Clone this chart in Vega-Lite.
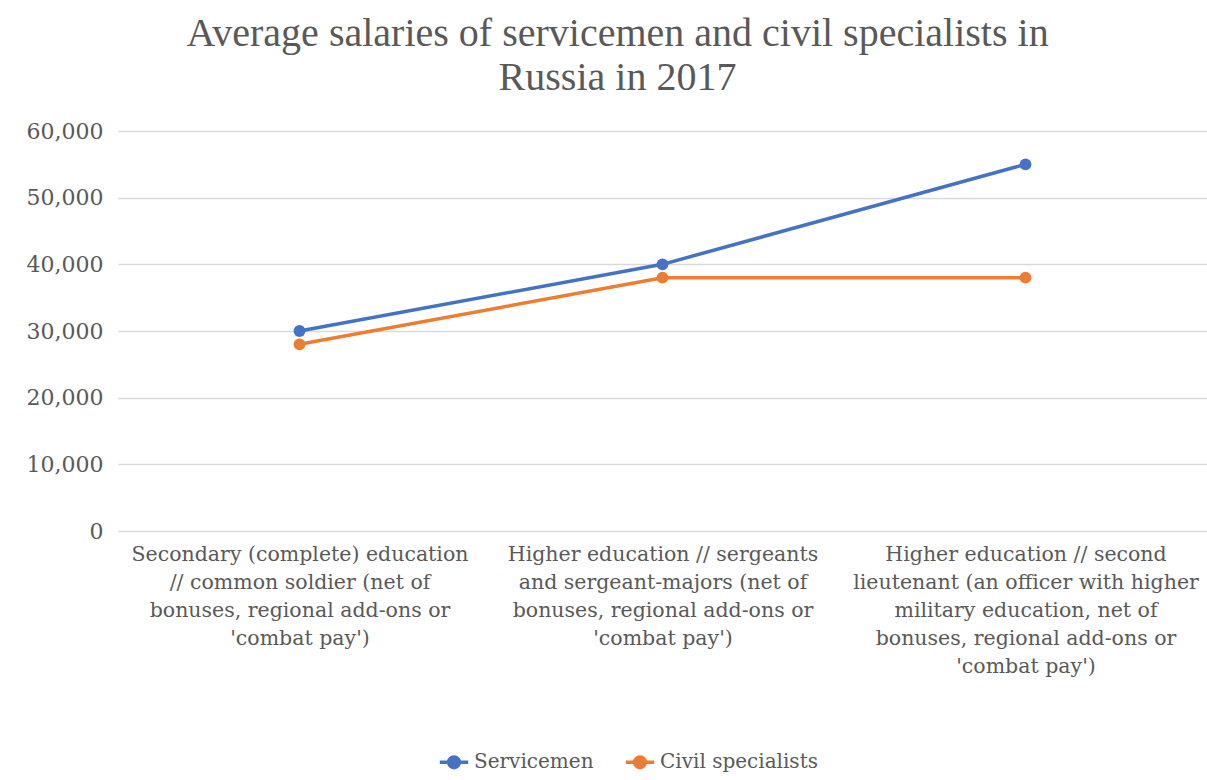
{
  "$schema": "https://vega.github.io/schema/vega-lite/v6.json",
  "width": 1089,
  "height": 400,
  "autosize": {"type": "none"},
  "padding": {"left": 118, "top": 131, "right": 0, "bottom": 249},
  "background": "white",
  "title": {
    "text": ["Average salaries of servicemen and civil specialists in", "Russia in 2017"],
    "font": "Liberation Serif",
    "fontSize": 40,
    "fontWeight": "normal",
    "color": "#595959",
    "lineHeight": 44,
    "anchor": "middle",
    "dx": -45,
    "offset": 22
  },
  "data": {
    "values": [
      {"category": "Secondary (complete) education|// common soldier (net of|bonuses, regional add-ons or|'combat pay')", "order": 1, "series": "Servicemen", "salary": 30000},
      {"category": "Higher education // sergeants|and sergeant-majors (net of|bonuses, regional add-ons or|'combat pay')", "order": 2, "series": "Servicemen", "salary": 40000},
      {"category": "Higher education // second|lieutenant (an officer with higher|military education, net of|bonuses, regional add-ons or|'combat pay')", "order": 3, "series": "Servicemen", "salary": 55000},
      {"category": "Secondary (complete) education|// common soldier (net of|bonuses, regional add-ons or|'combat pay')", "order": 1, "series": "Civil specialists", "salary": 28000},
      {"category": "Higher education // sergeants|and sergeant-majors (net of|bonuses, regional add-ons or|'combat pay')", "order": 2, "series": "Civil specialists", "salary": 38000},
      {"category": "Higher education // second|lieutenant (an officer with higher|military education, net of|bonuses, regional add-ons or|'combat pay')", "order": 3, "series": "Civil specialists", "salary": 38000}
    ]
  },
  "encoding": {
    "x": {
      "field": "category",
      "type": "nominal",
      "sort": {"field": "order"},
      "scale": {"type": "point", "padding": 0.5},
      "axis": {
        "title": null,
        "labelAngle": 0,
        "labelExpr": "split(datum.label, '|')",
        "labelFont": "DejaVu Serif",
        "labelFontSize": 20.5,
        "labelColor": "#595959",
        "labelLineHeight": 28,
        "labelLimit": 400,
        "labelPadding": 13,
        "labelBaseline": "top",
        "domain": false,
        "ticks": false,
        "grid": false
      }
    },
    "y": {
      "field": "salary",
      "type": "quantitative",
      "scale": {"domain": [0, 60000], "nice": false},
      "axis": {
        "title": null,
        "values": [0, 10000, 20000, 30000, 40000, 50000, 60000],
        "format": ",d",
        "labelFont": "DejaVu Serif",
        "labelFontSize": 22,
        "labelColor": "#595959",
        "labelPadding": 15,
        "domain": false,
        "ticks": false,
        "grid": true,
        "gridColor": "#d9d9d9",
        "gridWidth": 1.3
      }
    },
    "color": {
      "field": "series",
      "type": "nominal",
      "sort": ["Servicemen", "Civil specialists"],
      "scale": {"domain": ["Servicemen", "Civil specialists"], "range": ["#4472C4", "#ED7D31"]},
      "legend": {
        "title": null,
        "orient": "none",
        "direction": "horizontal",
        "legendX": 322,
        "legendY": 617,
        "symbolType": "M-1.2,0L1.2,0M0.45,0A0.45,0.45 0 1,1 -0.45,0A0.45,0.45 0 1,1 0.45,0Z",
        "symbolSize": 560,
        "symbolStrokeWidth": 3.5,
        "labelFont": "DejaVu Serif",
        "labelFontSize": 20,
        "labelColor": "#595959",
        "columnPadding": 24,
        "labelOffset": 6
      }
    }
  },
  "layer": [
    {"mark": {"type": "line", "strokeWidth": 3.5}},
    {"mark": {"type": "point", "filled": true, "size": 140, "opacity": 1}}
  ],
  "config": {"view": {"stroke": null}}
}
